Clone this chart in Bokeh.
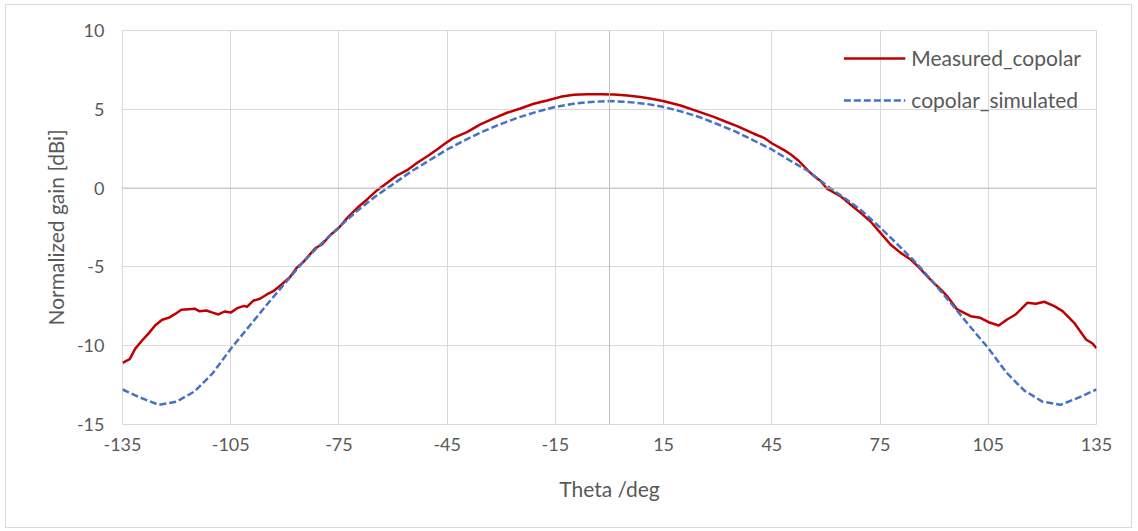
from bokeh.plotting import figure
from bokeh.models import Span, FixedTicker, Legend, LegendItem
from bokeh.embed import file_html
from bokeh.resources import INLINE

# ---- data ----
theta_meas = [-135.0, -133.0, -131.5, -129.7, -127.7, -125.9, -124.0, -122.2, -120.5, -118.7,
              -116.8, -115.0, -113.6, -111.8, -110.0, -108.4, -106.7, -105.0, -103.2, -101.3,
              -100.5, -98.8, -96.9, -95.0, -93.2, -90.9, -88.6, -86.7, -84.9, -83.4,
              -81.5, -79.7, -77.2, -75.0, -72.7, -69.9, -67.2, -64.4, -61.6, -58.9,
              -56.1, -53.3, -50.5, -47.8, -45.0, -43.2, -39.5, -35.8, -32.1, -28.4,
              -24.7, -21.0, -17.3, -13.6, -9.9, -6.2, -2.5, 1.2, 4.9, 8.6,
              12.0, 15.1, 19.7, 24.3, 28.9, 32.6, 35.4, 40.0, 42.8, 45.1,
              48.4, 50.2, 52.5, 55.0, 56.6, 58.6, 60.3, 64.0, 66.8, 69.6,
              72.3, 75.1, 77.9, 80.7, 83.5, 85.7, 88.5, 89.9, 91.8, 93.6,
              96.4, 100.1, 102.8, 105.1, 107.9, 110.2, 112.6, 115.8, 118.2, 120.5,
              123.3, 125.6, 128.8, 132.1, 133.9, 135.0]
gain_meas = [-11.09, -10.85, -10.20, -9.70, -9.20, -8.70, -8.35, -8.23, -8.00, -7.72,
             -7.68, -7.65, -7.82, -7.77, -7.90, -8.02, -7.83, -7.90, -7.62, -7.47,
             -7.53, -7.15, -7.02, -6.75, -6.54, -6.12, -5.65, -5.05, -4.70, -4.30,
             -3.80, -3.58, -2.94, -2.52, -1.89, -1.25, -0.72, -0.13, 0.34, 0.80,
             1.14, 1.61, 2.02, 2.45, 2.92, 3.19, 3.55, 4.04, 4.42, 4.78,
             5.05, 5.35, 5.56, 5.79, 5.92, 5.96, 5.96, 5.94, 5.88, 5.78,
             5.65, 5.51, 5.24, 4.88, 4.52, 4.18, 3.93, 3.45, 3.19, 2.83,
             2.41, 2.15, 1.72, 1.12, 0.78, 0.44, -0.04, -0.51, -1.04, -1.57,
             -2.10, -2.84, -3.58, -4.11, -4.53, -5.02, -5.69, -6.01, -6.43, -6.86,
             -7.70, -8.13, -8.23, -8.51, -8.72, -8.34, -8.02, -7.28, -7.34, -7.21,
             -7.49, -7.81, -8.55, -9.61, -9.86, -10.15]

theta_sim = [-135, -130, -125, -120, -115, -110, -105, -100, -95, -90, -85, -80, -75, -70,
             -65, -60, -55, -50, -45, -40, -35, -30, -25, -20, -15, -10, -5, 0,
             5, 10, 15, 20, 25, 30, 35, 40, 45, 50, 55, 60, 65, 70,
             75, 80, 85, 90, 95, 100, 105, 110, 115, 120, 125, 130, 135]
gain_sim = [-12.78, -13.30, -13.75, -13.55, -12.90, -11.75, -10.20, -8.80, -7.40, -6.05, -4.70, -3.55, -2.48, -1.45,
            -0.55, 0.25, 1.05, 1.75, 2.45, 3.05, 3.60, 4.08, 4.50, 4.85, 5.15, 5.35, 5.47, 5.52,
            5.47, 5.35, 5.15, 4.85, 4.50, 4.05, 3.58, 3.02, 2.45, 1.75, 1.10, 0.20, -0.60, -1.45,
            -2.50, -3.60, -4.75, -6.05, -7.40, -8.80, -10.15, -11.70, -12.85, -13.55, -13.75, -13.30, -12.78]

x_ticks = [-135, -105, -75, -45, -15, 15, 45, 75, 105, 135]
x_tick_labels = ["-135", "-105", "-75", "-45", "-15", "15", "45", "75", "105", "135"]
y_ticks = [-15, -10, -5, 0, 5, 10]
y_tick_labels = ["-15", "-10", "-5", "0", "5", "10"]

FONT = "Lato"
TXT = "#595959"
GRID = "#d9d9d9"

p = figure(width=1127, height=524, x_range=(-135, 135), y_range=(-15, 10),
           output_backend="svg", toolbar_location=None,
           min_border_left=116, min_border_right=37, min_border_top=25, min_border_bottom=105)
p.styles = {"border": "1px solid #d9d9d9", "box-sizing": "border-box", "margin": "4px 0px 0px 5px"}

p.outline_line_color = GRID
p.background_fill_color = "white"

for ax in (p.xaxis[0], p.yaxis[0]):
    ax.axis_line_color = None
    ax.major_tick_line_color = None
    ax.minor_tick_line_color = None
    ax.major_tick_in = 0
    ax.major_tick_out = 0
    ax.major_label_text_font = FONT
    ax.major_label_text_font_size = "18px"
    ax.major_label_text_color = TXT
    ax.axis_label_text_font = FONT
    ax.axis_label_text_font_size = "21px"
    ax.axis_label_text_font_style = "normal"
    ax.axis_label_text_color = TXT

p.xaxis[0].ticker = FixedTicker(ticks=x_ticks)
p.yaxis[0].ticker = FixedTicker(ticks=y_ticks)
p.xaxis[0].major_label_overrides = dict(zip(x_ticks, x_tick_labels))
p.yaxis[0].major_label_overrides = dict(zip(y_ticks, y_tick_labels))
p.xaxis[0].axis_label = "Theta /deg"
p.yaxis[0].axis_label = "Normalized gain [dBi]"
p.xaxis[0].major_label_standoff = 13
p.yaxis[0].major_label_standoff = 18
p.xaxis[0].axis_label_standoff = 22
p.yaxis[0].axis_label_standoff = 6

p.xgrid.ticker = FixedTicker(ticks=x_ticks)
p.ygrid.ticker = FixedTicker(ticks=y_ticks)
p.xgrid.grid_line_color = GRID
p.ygrid.grid_line_color = GRID

p.add_layout(Span(location=0, dimension="height", line_color="#bfbfbf", line_width=1))
p.add_layout(Span(location=0, dimension="width", line_color="#bfbfbf", line_width=1))

r1 = p.line(theta_meas, gain_meas, line_color="#C00000", line_width=2.5, line_join="round")
r2 = p.line(theta_sim, gain_sim, line_color="#4472C4", line_width=2.5, line_dash="7 3")

legend = Legend(items=[LegendItem(label="Measured_copolar", renderers=[r1]),
                       LegendItem(label="copolar_simulated", renderers=[r2])],
                location="top_right", margin=15, padding=17, spacing=17,
                glyph_width=62, glyph_height=20, label_height=20, label_standoff=6,
                background_fill_alpha=0, border_line_color=None,
                label_text_font=FONT, label_text_font_size="21px", label_text_color=TXT)
p.add_layout(legend)

open("out.html", "w").write(file_html(p, INLINE))
